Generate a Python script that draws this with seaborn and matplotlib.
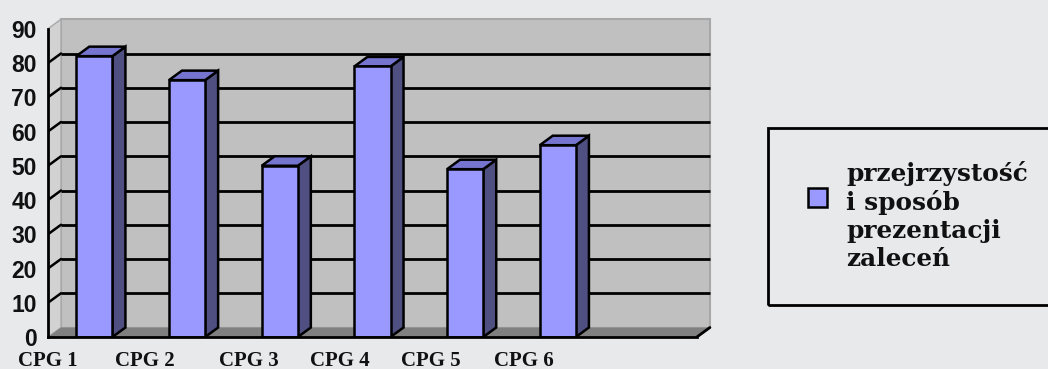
import matplotlib
matplotlib.use("Agg")
import matplotlib.pyplot as plt
from matplotlib.patches import Polygon, Rectangle
import pandas as pd
import seaborn as sns

# Scores per guideline
categories = ["CPG 1", "CPG 2", "CPG 3", "CPG 4", "CPG 5", "CPG 6"]
scores = [82, 75, 50, 79, 49, 56]
series_name = "przejrzystość\ni sposób\nprezentacji\nzaleceń"
y_ticks = [0, 10, 20, 30, 40, 50, 60, 70, 80, 90]

BG = "#e8e9eb"
WALL = "#c0c0c0"
SIDE_WALL = "#d2d2d2"
FLOOR = "#808080"
FRONT = "#9999ff"
TOP = "#7575cf"
SIDE = "#4f4f82"

sns.set_theme(style="white")
plt.rcParams["font.family"] = ["DejaVu Sans"]

W, H = 1048, 369
fig = plt.figure(figsize=(W / 100, H / 100), dpi=100, facecolor=BG)

# axes box in pixels
left_px, right_px, bottom_px, top_px = 48, 712, 337, 14
ax = fig.add_axes([left_px / W, (H - bottom_px) / H,
                   (right_px - left_px) / W, (bottom_px - top_px) / H])
ax.set_facecolor("none")

px_per_x = 92.7
px_per_y = 3.425
xlim = (-0.5, -0.5 + (right_px - left_px) / px_per_x)
ylim = (0, (bottom_px - top_px) / px_per_y)

# depth of the 3-D box in data units
dx = 13 / px_per_x
dy = 9.5 / px_per_y
n_slots = len(categories) + 1
x0, x1 = -0.5, n_slots - 0.5
ymax = y_ticks[-1]

# back wall, side wall and floor
ax.add_patch(Rectangle((x0 + dx, dy), x1 - x0, ymax, facecolor=WALL,
                       edgecolor="#a8a8a8", lw=1.5, zorder=0))
ax.add_patch(Polygon([(x0, 0), (x0 + dx, dy), (x0 + dx, ymax + dy), (x0, ymax)],
                     closed=True, facecolor=SIDE_WALL, edgecolor="#a8a8a8",
                     lw=1, zorder=0))
for v in y_ticks[1:-1]:
    ax.plot([x0 + dx, x1 + dx], [v + dy, v + dy], color="black", lw=2, zorder=1,
            solid_capstyle="butt")
    ax.plot([x0, x0 + dx], [v, v + dy], color="black", lw=1.8, zorder=1)
ax.add_patch(Polygon([(x0, 0), (x1, 0), (x1 + dx, dy), (x0 + dx, dy)],
                     closed=True, facecolor=FLOOR, edgecolor="none", zorder=2))
ax.plot([x1, x1 + dx], [0, dy], color="black", lw=2, zorder=3)

# front faces of the columns
df = pd.DataFrame({"cat": categories, "score": scores})
sns.barplot(data=df, x="cat", y="score", order=categories, color=FRONT,
            saturation=1, width=0.39, edgecolor="black", linewidth=1.8,
            ax=ax, zorder=5)
ax.set_xlim(*xlim)
ax.set_ylim(*ylim)

# top and side faces built from each bar
for bar in list(ax.patches):
    if bar.get_zorder() != 5:
        continue
    bx, bw, bh = bar.get_x(), bar.get_width(), bar.get_height()
    side = Polygon([(bx + bw, 0), (bx + bw + dx, dy), (bx + bw + dx, bh + dy),
                    (bx + bw, bh)], closed=True, facecolor=SIDE,
                   edgecolor="black", lw=1.8, zorder=4)
    top = Polygon([(bx, bh), (bx + bw, bh), (bx + bw + dx, bh + dy),
                   (bx + dx, bh + dy)], closed=True, facecolor=TOP,
                  edgecolor="black", lw=1.8, zorder=4)
    ax.add_patch(side)
    ax.add_patch(top)

# axes lines and ticks
for s in ["top", "right"]:
    ax.spines[s].set_visible(False)
ax.spines["left"].set_bounds(0, ymax)
ax.spines["bottom"].set_bounds(x0, x1)
for s in ["left", "bottom"]:
    ax.spines[s].set_color("black")
    ax.spines[s].set_linewidth(2)
    ax.spines[s].set_zorder(6)
ax.set_yticks(y_ticks)
ax.set_yticklabels([str(v) for v in y_ticks], fontfamily="Liberation Sans",
                   fontweight="bold", fontsize=16.5, color="#111111")
ax.set_xticks([x0 + i for i in range(n_slots + 1)])
ax.set_xticklabels([])
ax.tick_params(axis="both", direction="out", length=6, width=2, color="black")
ax.tick_params(axis="y", pad=2)
ax.set_xlabel("")
ax.set_ylabel("")

# category labels, set below the front edge
label_x = [-0.5, 0.54, 1.67, 2.65, 3.63, 4.63]
base_y = -(366 - bottom_px) / px_per_y
for lx, name in zip(label_x, categories):
    ax.text(lx, base_y, name, ha="center", va="baseline",
            fontfamily="Liberation Serif", fontweight="bold", fontsize=15,
            color="#111111", clip_on=False)

# legend box
fig.patches.append(Rectangle((768 / W, (H - 305) / H), 290 / W, 177 / H,
                             transform=fig.transFigure, facecolor="none",
                             edgecolor="black", lw=2))
fig.patches.append(Rectangle((808 / W, (H - 207) / H), 19 / W, 19 / H,
                             transform=fig.transFigure, facecolor=FRONT,
                             edgecolor="black", lw=1.8))
fig.text(846 / W, (H - 216) / H, series_name, ha="left", va="center",
         fontfamily="DejaVu Serif", fontweight="bold", fontsize=17.8,
         linespacing=1.2, color="#111111")

fig.savefig("out.png", dpi=100, facecolor=BG)
